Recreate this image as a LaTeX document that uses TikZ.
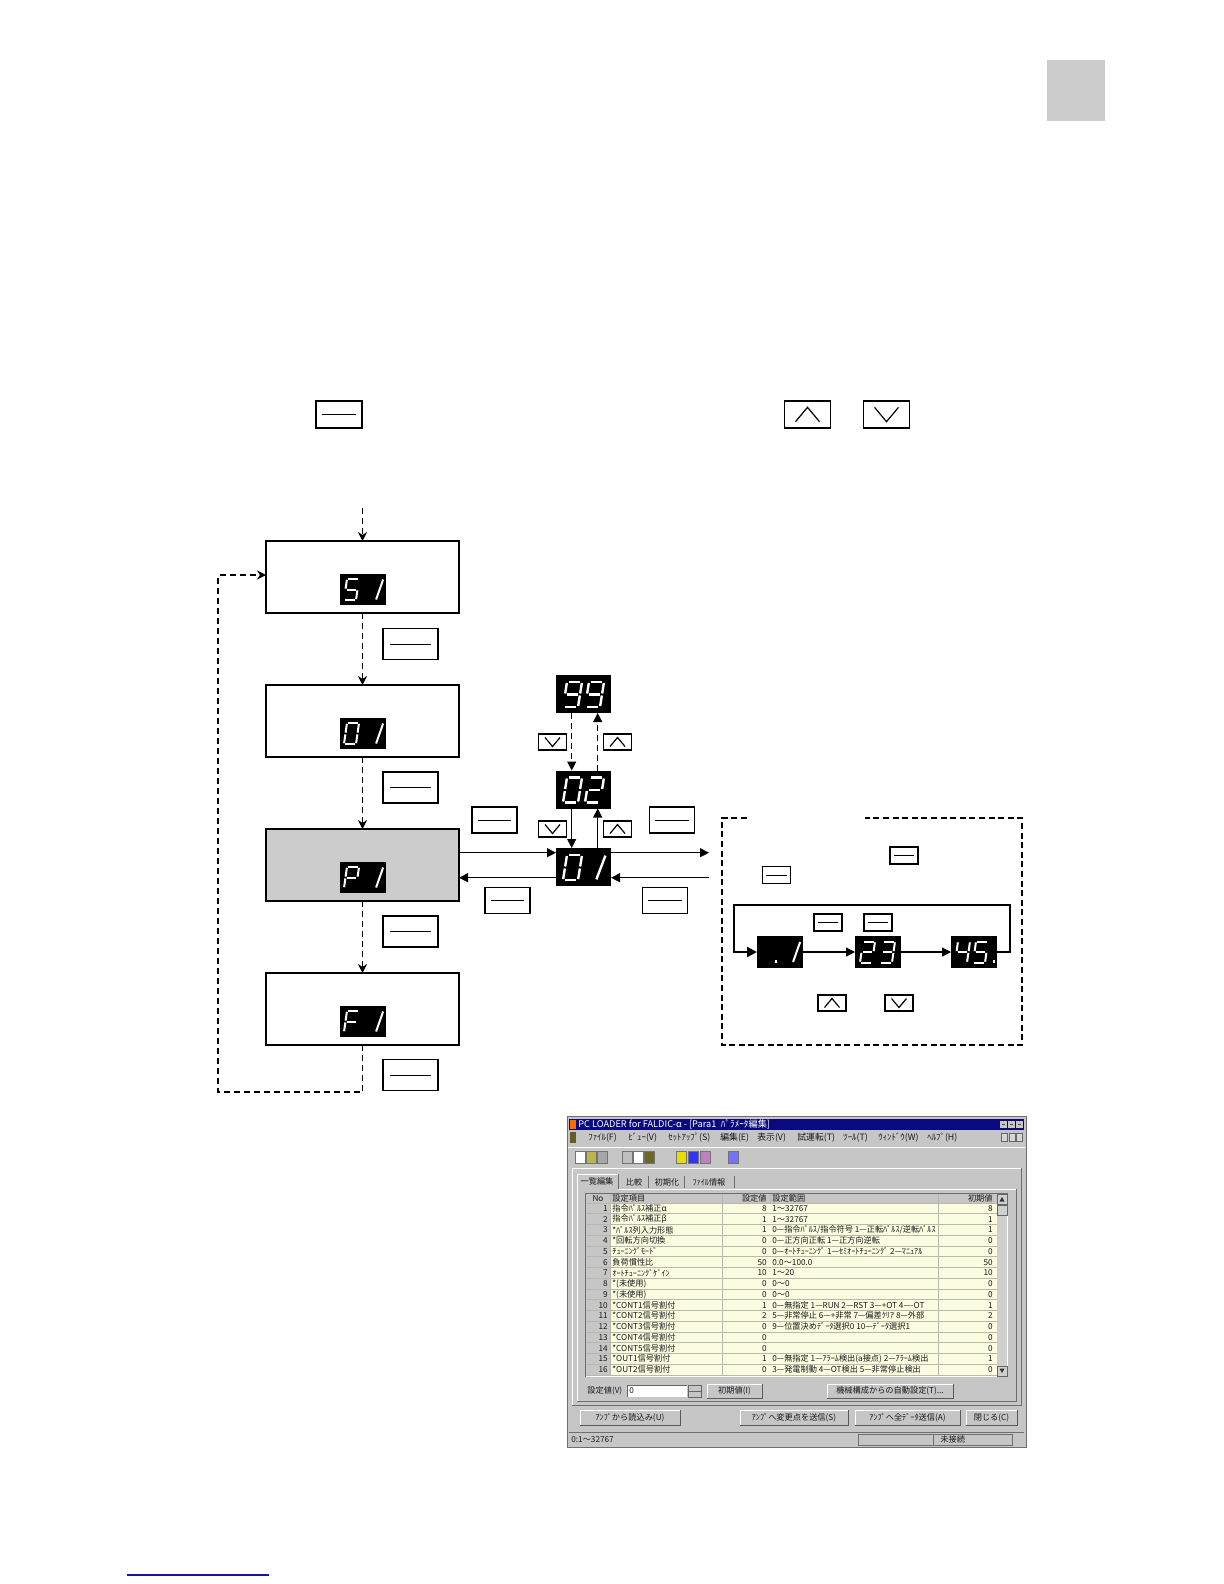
\documentclass[tikz,border=0pt]{standalone}
\usepackage{fontspec}
\newfontfamily\jp{Noto Sans CJK JP}
\usetikzlibrary{arrows.meta,calc}
\definecolor{boxgray}{RGB}{204,204,204}
\definecolor{wingray}{RGB}{198,198,198}
\definecolor{navyb}{RGB}{10,10,128}
\definecolor{rowyel}{RGB}{252,252,224}
\definecolor{rowline}{RGB}{185,185,170}
\definecolor{linkblue}{RGB}{20,20,160}
\definecolor{wdark}{RGB}{110,110,110}
% seven segment pieces (local cell: x 0..1, y 0..2 downwards, slanted)
\newcommand\ssdsega{\draw[segs] (0.12,0) -- (0.88,0);}
\newcommand\ssdsegb{\draw[segs] (1,0.08) -- (1,0.92);}
\newcommand\ssdsegc{\draw[segs] (1,1.08) -- (1,1.92);}
\newcommand\ssdsegd{\draw[segs] (0.12,2) -- (0.88,2);}
\newcommand\ssdsege{\draw[segs] (0,1.08) -- (0,1.92);}
\newcommand\ssdsegf{\draw[segs] (0,0.08) -- (0,0.92);}
\newcommand\ssdsegg{\draw[segs] (0.12,1) -- (0.88,1);}
\newcommand\ssdsegi{\draw[segs] (1.1,0.05) -- (0.75,1.95);}
\newcommand\ssdsegp{\fill[white] (1.1,1.72) rectangle (1.35,2.02);}
\newcommand\ssdsegq{\fill[white] (1.6,1.72) rectangle (1.85,2.02);}
\newcommand\segdigit[4]{\begin{scope}[shift={(#1)},shift={#2},#3]\foreach \s in {#4}{\csname ssdseg\s\endcsname}\end{scope}}
\newcommand\trow[5]{%
 \node[sst, anchor=east] (tn#1) at (608,{1203+(#1-0.5)*10.75}) {#1};
 \node[sst, anchor=west] (ti#1) at (612,{1203+(#1-0.5)*10.75}) {#2};
 \node[sst, anchor=east] (tv#1) at (767,{1203+(#1-0.5)*10.75}) {#3};
 \begin{scope}
 \clip (770,{1203+(#1-1)*10.75}) rectangle (936,{1203+#1*10.75});
 \node[sst, anchor=west] (tr#1) at (772,{1203+(#1-0.5)*10.75}) {#4};
 \end{scope}
 \node[sst, anchor=east] (tz#1) at (993,{1203+(#1-0.5)*10.75}) {#5};}
\newcommand\winbtn[6]{%
 \fill[wingray] (#2,#3) rectangle (#4,#5);
 \draw[white, line width=0.5pt] (#2,#5) -- (#2,#3) -- (#4,#3);
 \draw[black!65, line width=0.5pt] (#4,#3) -- (#4,#5) -- (#2,#5);
 \node[sst] (#1) at ({(#2+#4)/2},{(#3+#5)/2}) {#6};}
\begin{document}
\begin{tikzpicture}[x=0.5pt,y=-0.5pt,
  box/.style={draw, line width=0.75pt, minimum width=96.5pt, minimum height=36pt, inner sep=0pt, outer sep=0pt, anchor=north west},
  disp/.style={fill=black, inner sep=0pt, outer sep=0pt, minimum width=23pt, minimum height=15.5pt},
  dispbig/.style={fill=black, inner sep=0pt, outer sep=0pt, minimum width=27.5pt, minimum height=19pt},
  keybase/.style={draw, line width=0.6pt, inner sep=0pt, fill=white},
  keyline/.style={keybase, path picture={\draw[line width=0.5pt] ($(path picture bounding box.west)!0.13!(path picture bounding box.east)$) -- ($(path picture bounding box.west)!0.87!(path picture bounding box.east)$);}},
  keyup/.style={keybase, path picture={\draw[line width=0.6pt] ([shift={(-#1,-0.6*#1)}]path picture bounding box.center) -- ([shift={(0pt,0.6*#1)}]path picture bounding box.center) -- ([shift={(#1,-0.6*#1)}]path picture bounding box.center);}},
  keydown/.style={keybase, path picture={\draw[line width=0.6pt] ([shift={(-#1,0.6*#1)}]path picture bounding box.center) -- ([shift={(0pt,-0.6*#1)}]path picture bounding box.center) -- ([shift={(#1,0.6*#1)}]path picture bounding box.center);}},
  kbig/.style={minimum width=27.5pt, minimum height=15.5pt},
  kmid/.style={minimum width=22.5pt, minimum height=13pt},
  ktop/.style={minimum width=23pt, minimum height=13.5pt},
  ksm/.style={minimum width=14pt, minimum height=8pt},
  segs/.style={draw=white, line cap=butt},
  segsmall/.style={x={(6pt,0pt)}, y={(-0.75pt,-5.25pt)}, line width=1pt},
  segbig/.style={x={(7.5pt,0pt)}, y={(-1pt,-6.25pt)}, line width=1.2pt},
  darr/.style={line width=0.6pt, dash pattern=on 3pt off 2pt, -{Stealth[length=4.5pt,width=4.5pt]}},
  darrT/.style={line width=0.6pt, dash pattern=on 3pt off 2pt, -{Triangle[length=4.5pt,width=4.5pt]}},
  tarr/.style={line width=0.6pt, -{Triangle[length=4.5pt,width=4.5pt]}},
  sst/.style={font=\jp\fontsize{4.1}{4.5}\selectfont, inner sep=0pt, text=black!90},
  mst/.style={font=\jp\fontsize{4.4}{5}\selectfont, inner sep=0pt, text=black!90},
  ttxt/.style={font=\jp\fontsize{4.6}{5}\selectfont, inner sep=0pt, text=white}
]
\useasboundingbox (0,0) rectangle (1224,1584);

% corner tab
\node[fill=boxgray, inner sep=0pt, minimum width=29pt, minimum height=30.5pt, anchor=north west] (tab) at (1047,60) {};

% top key legend
\node[keyline, ktop] (k0) at (339,414.5) {};
\node[keyup=6pt, ktop] (ku0) at (807.5,414.5) {};
\node[keydown=6pt, ktop] (kd0) at (886.5,414.5) {};

% left chain
\node[box] (bS) at (266,541) {};
\node[box] (bO) at (266,685) {};
\node[box, fill=boxgray] (bP) at (266,829) {};
\node[box] (bF) at (266,973) {};
\node[disp] (dS) at (363,589.5) {};
\node[disp] (dO) at (363,733.5) {};
\node[disp] (dP) at (363,877.5) {};
\node[disp] (dF) at (363,1021.5) {};
\segdigit{dS.north west}{(7,5)}{segsmall}{a,f,g,c,d}
\segdigit{dS.north west}{(30,5)}{segsmall}{i}
\segdigit{dO.north west}{(7,5)}{segsmall}{a,b,c,d,e,f}
\segdigit{dO.north west}{(30,5)}{segsmall}{i}
\segdigit{dP.north west}{(7,5)}{segsmall}{a,b,f,g,e}
\segdigit{dP.north west}{(30,5)}{segsmall}{i}
\segdigit{dF.north west}{(7,5)}{segsmall}{a,f,g,e}
\segdigit{dF.north west}{(30,5)}{segsmall}{i}

\coordinate (entry) at (362.5,508);
\draw[darr] (entry) -- (bS.north);
\draw[darr] (bS.south) -- (bO.north);
\draw[darr] (bO.south) -- (bP.north);
\draw[darr] (bP.south) -- (bF.north);
\coordinate (lb) at (218,1092);
\coordinate (lt) at (218,575);
\draw[darr] (bF.south) |- (lb) |- (bS.west |- lt);

\node[keyline, kbig] (k1) at (410.5,644) {};
\node[keyline, kbig] (k2) at (410.5,787.5) {};
\node[keyline, kbig] (k3) at (410.5,931.5) {};
\node[keyline, kbig] (k4) at (410.5,1075) {};

% middle value chain
\node[dispbig] (d99) at (583.5,694) {};
\node[dispbig] (d02) at (583.5,789.5) {};
\node[dispbig] (d01) at (583.5,867) {};
\segdigit{d99.north west}{(11,7)}{segbig}{a,b,c,d,f,g}
\segdigit{d99.north west}{(33,7)}{segbig}{a,b,c,d,f,g}
\segdigit{d02.north west}{(11,7)}{segbig}{a,b,c,d,e,f}
\segdigit{d02.north west}{(33,7)}{segbig}{a,b,g,e,d}
\segdigit{d01.north west}{(11,7)}{segbig}{a,b,c,d,e,f}
\segdigit{d01.north west}{(33,7)}{segbig}{i}

\draw[darrT] ([xshift=-5.9pt]d99.south) -- ([xshift=-5.9pt]d02.north);
\draw[darrT] ([xshift=7.1pt]d02.north) -- ([xshift=7.1pt]d99.south);
\draw[tarr] ([xshift=-5.9pt]d02.south) -- ([xshift=-5.9pt]d01.north);
\draw[tarr] ([xshift=7.1pt]d01.north) -- ([xshift=7.1pt]d02.south);
\node[keydown=3.75pt, ksm] (kd1) at (552.5,742) {};
\node[keyup=3.75pt, ksm] (ku1) at (617.5,742) {};
\node[keydown=3.75pt, ksm] (kd2) at (552.5,829) {};
\node[keyup=3.75pt, ksm] (ku2) at (617.5,829) {};

\coordinate (pu) at ([yshift=6.15pt]bP.east);
\coordinate (pd) at ([yshift=-6.35pt]bP.east);
\draw[tarr] (pu) -- (pu -| d01.west);
\draw[tarr] (pd -| d01.west) -- (pd);
\coordinate (ru) at (709,852.7);
\coordinate (rd) at (709,877.7);
\draw[tarr] (d01.east |- ru) -- (ru);
\draw[tarr] (rd) -- (d01.east |- rd);
\node[keyline, kmid] (kl1) at (494.5,820) {};
\node[keyline, kmid] (kr1) at (672,820) {};
\node[keyline, kmid] (kl2) at (507.5,900.5) {};
\node[keyline, kmid] (kr2) at (665,900.5) {};

% dashed detail frame
\draw[line width=0.9pt, dash pattern=on 3pt off 1.8pt] (747,818) -- (722,818) -- (722,1045) -- (1022,1045) -- (1022,818) -- (865,818);
\node[keyline, minimum width=14pt, minimum height=8.5pt] (ki1) at (904,855.5) {};
\node[keyline, minimum width=14pt, minimum height=8.5pt] (ki2) at (776.5,875) {};
\node[keyline, minimum width=14pt, minimum height=8.5pt] (ki3) at (828,922.5) {};
\node[keyline, minimum width=14pt, minimum height=8.5pt] (ki4) at (878,922.5) {};
\node[keyup=3.75pt, minimum width=14pt, minimum height=8pt] (ki5) at (832,1003) {};
\node[keydown=3.75pt, minimum width=14pt, minimum height=8pt] (ki6) at (899,1003) {};

\node[disp, minimum height=16pt] (e1) at (780,952) {};
\node[disp, minimum height=16pt] (e2) at (878,952) {};
\node[disp, minimum height=16pt] (e3) at (974,952) {};
\segdigit{e1.north west}{(7,5.5)}{segsmall}{p}
\segdigit{e1.north west}{(30,5.5)}{segsmall}{i}
\segdigit{e2.north west}{(8,5.5)}{segsmall}{a,b,g,e,d}
\segdigit{e2.north west}{(28,5.5)}{segsmall}{a,b,g,c,d}
\segdigit{e3.north west}{(7,5.5)}{segsmall}{f,g,b,c}
\segdigit{e3.north west}{(25,5.5)}{segsmall}{a,f,g,c,d,q}
\draw[tarr] (e1) -- (e2);
\draw[tarr] (e2) -- (e3);
\coordinate (lr) at (1010,905);
\coordinate (ll) at (734,905);
\draw[line width=1.2pt, -{Triangle[length=5pt,width=5pt]}] (e3.east) -| (lr) -- (ll) |- (e1.west);

% bottom link line
\coordinate (bl1) at (127,1575);
\coordinate (bl2) at (269,1575);
\draw[linkblue, line width=0.7pt] (bl1) -- (bl2);

% ---------- screenshot ----------
\node[fill=wingray, draw=wdark, line width=0.4pt, minimum width=229.5pt, minimum height=165.5pt, inner sep=0pt, anchor=north west] (win) at (567,1116) {};
\fill[navyb] (569,1119) rectangle (1024,1130);
\fill[orange!85!red] (570,1120) rectangle (576,1129);
\node[ttxt, anchor=west] (wtitle) at (578,1124.8) {PC LOADER for FALDIC-α - [Para1\enspace ﾊﾟﾗﾒｰﾀ編集]};
\foreach \x in {1000,1008,1016}{\fill[wingray] (\x,1121) rectangle ++(7,7); \draw[black!70, line width=0.3pt] (\x+2,1124.5) -- (\x+5,1124.5);}
% menu
\fill[olive!60!black] (570,1132) rectangle (576,1143);
\node[mst, anchor=west] (m1) at (588,1137.5) {ﾌｧｲﾙ(F)};
\node[mst, anchor=west] (m2) at (628,1137.5) {ﾋﾞｭｰ(V)};
\node[mst, anchor=west] (m3) at (668,1137.5) {ｾｯﾄｱｯﾌﾟ(S)};
\node[mst, anchor=west] (m4) at (720,1137.5) {編集(E)};
\node[mst, anchor=west] (m5) at (757,1137.5) {表示(V)};
\node[mst, anchor=west] (m6) at (797,1137.5) {試運転(T)};
\node[mst, anchor=west] (m7) at (843,1137.5) {ﾂｰﾙ(T)};
\node[mst, anchor=west] (m8) at (878,1137.5) {ｳｨﾝﾄﾞｳ(W)};
\node[mst, anchor=west] (m9) at (927,1137.5) {ﾍﾙﾌﾟ(H)};
\foreach \x in {1001,1009,1016}{\fill[wingray!70] (\x,1133) rectangle ++(6,8); \draw[black!60, line width=0.3pt] (\x,1133) rectangle ++(6,8);}
% toolbar
\draw[white, line width=0.5pt] (568,1147) -- (1025,1147);
\foreach \x/\c in {575/white, 586/olive!60, 597/gray!70, 622/gray!50, 633/white, 644/olive!70!black, 676/yellow!80!olive, 688/blue!80, 700/violet!50, 728/blue!55}{\fill[\c] (\x,1151) rectangle ++(10,12); \draw[black!55, line width=0.3pt] (\x,1151) rectangle ++(10,12);}
% panel
\draw[white, line width=0.5pt] (572,1405) -- (572,1168) -- (1021,1168);
\draw[wdark, line width=0.5pt] (1021,1168) -- (1021,1405) -- (572,1405);
% tabs
\draw[white, line width=0.5pt] (577,1189) -- (577,1174) -- (618,1174);
\draw[wdark, line width=0.5pt] (618,1174) -- (618,1189);
\draw[wdark, line width=0.4pt] (648,1176) -- (648,1188) (684,1176) -- (684,1188) (734,1176) -- (734,1188);
\node[sst] (tab1) at (597,1181) {一覧編集};
\node[sst] (tab2) at (634,1182) {比較};
\node[sst] (tab3) at (667,1182) {初期化};
\node[sst] (tab4) at (709,1182) {ﾌｧｲﾙ情報};
\draw[white, line width=0.5pt] (577,1189) -- (577,1401) (618,1189) -- (1016,1189);
\draw[wdark, line width=0.5pt] (1016,1189) -- (1016,1401) -- (577,1401);
% table
\fill[white] (585,1193) rectangle (1008,1377);
\draw[wdark, line width=0.5pt] (585,1377) -- (585,1193) -- (1008,1193);
\fill[wingray] (586,1194) rectangle (997,1203);
\fill[wingray] (586,1203) rectangle (610,1375);
\fill[rowyel] (610,1203) rectangle (997,1375);
\foreach \i in {0,...,16}{\draw[rowline, line width=0.3pt] (586,{1203+\i*10.75}) -- (997,{1203+\i*10.75});}
\draw[rowline, line width=0.3pt] (610,1194) -- (610,1375) (722,1194) -- (722,1375) (938,1194) -- (938,1375) (770,1194) -- (770,1203);
\fill[wingray!85] (997,1194) rectangle (1007,1376);
\draw[black!60, line width=0.3pt] (997,1194) rectangle (1007,1204) (997,1205) rectangle (1007,1215) (997,1366) rectangle (1007,1376);
\fill[black!80] (999.5,1201.5) -- (1002,1197) -- (1004.5,1201.5) -- cycle;
\fill[black!80] (999.5,1368.5) -- (1002,1373) -- (1004.5,1368.5) -- cycle;
\node[sst] (hno) at (598,1198.5) {No};
\node[sst, anchor=west] (hitem) at (612,1198.5) {設定項目};
\node[sst, anchor=east] (hval) at (767,1198.5) {設定値};
\node[sst, anchor=west] (hrng) at (772,1198.5) {設定範囲};
\node[sst, anchor=east] (hini) at (993,1198.5) {初期値};
\trow{1}{指令ﾊﾟﾙｽ補正α}{8}{1〜32767}{8}
\trow{2}{指令ﾊﾟﾙｽ補正β}{1}{1〜32767}{1}
\trow{3}{*ﾊﾟﾙｽ列入力形態}{1}{0—指令ﾊﾟﾙｽ/指令符号 1—正転ﾊﾟﾙｽ/逆転ﾊﾟﾙｽ}{1}
\trow{4}{*回転方向切換}{0}{0—正方向正転 1—正方向逆転}{0}
\trow{5}{ﾁｭｰﾆﾝｸﾞﾓｰﾄﾞ}{0}{0—ｵｰﾄﾁｭｰﾆﾝｸﾞ 1—ｾﾐｵｰﾄﾁｭｰﾆﾝｸﾞ 2—ﾏﾆｭｱﾙ}{0}
\trow{6}{負荷慣性比}{50}{0.0〜100.0}{50}
\trow{7}{ｵｰﾄﾁｭｰﾆﾝｸﾞｹﾞｲﾝ}{10}{1〜20}{10}
\trow{8}{*(未使用)}{0}{0〜0}{0}
\trow{9}{*(未使用)}{0}{0〜0}{0}
\trow{10}{*CONT1信号割付}{1}{0—無指定 1—RUN 2—RST 3—+OT 4—-OT}{1}
\trow{11}{*CONT2信号割付}{2}{5—非常停止 6—+非常 7—偏差ｸﾘｱ 8—外部}{2}
\trow{12}{*CONT3信号割付}{0}{9—位置決めﾃﾞｰﾀ選択0 10—ﾃﾞｰﾀ選択1}{0}
\trow{13}{*CONT4信号割付}{0}{}{0}
\trow{14}{*CONT5信号割付}{0}{}{0}
\trow{15}{*OUT1信号割付}{1}{0—無指定 1—ｱﾗｰﾑ検出(a接点) 2—ｱﾗｰﾑ検出}{1}
\trow{16}{*OUT2信号割付}{0}{3—発電制動 4—OT検出 5—非常停止検出}{0}
% controls under table
\node[sst, anchor=west] (lblv) at (587,1391) {設定値(V)};
\fill[white] (627,1385) rectangle (687,1397);
\draw[black!60, line width=0.4pt] (627,1397) -- (627,1385) -- (687,1385);
\node[sst, anchor=west] (inval) at (629,1391) {0};
\fill[wingray] (688,1385) rectangle (701,1397);
\draw[black!60, line width=0.3pt] (688,1385) rectangle (701,1391) (688,1391) rectangle (701,1397);
\winbtn{bi}{707}{1384}{762}{1398}{初期値(I)}
\winbtn{bauto}{827}{1384}{953}{1398}{機械構成からの自動設定(T)...}
\winbtn{b1}{580}{1410}{680}{1425}{ｱﾝﾌﾟから読込み(U)}
\winbtn{b2}{740}{1410}{848}{1425}{ｱﾝﾌﾟへ変更点を送信(S)}
\winbtn{b3}{855}{1410}{960}{1425}{ｱﾝﾌﾟへ全ﾃﾞｰﾀ送信(A)}
\winbtn{b4}{966}{1410}{1017}{1425}{閉じる(C)}
% status bar
\draw[wdark, line width=0.4pt] (569,1432) -- (1024,1432);
\node[sst, anchor=west] (stat1) at (571,1439.5) {0:1〜32767};
\draw[wdark, line width=0.4pt] (858,1434) rectangle (933,1445) (933,1434) rectangle (1012,1445);
\node[sst, anchor=west] (stat2) at (940,1439.5) {未接続};
\end{tikzpicture}
\end{document}
